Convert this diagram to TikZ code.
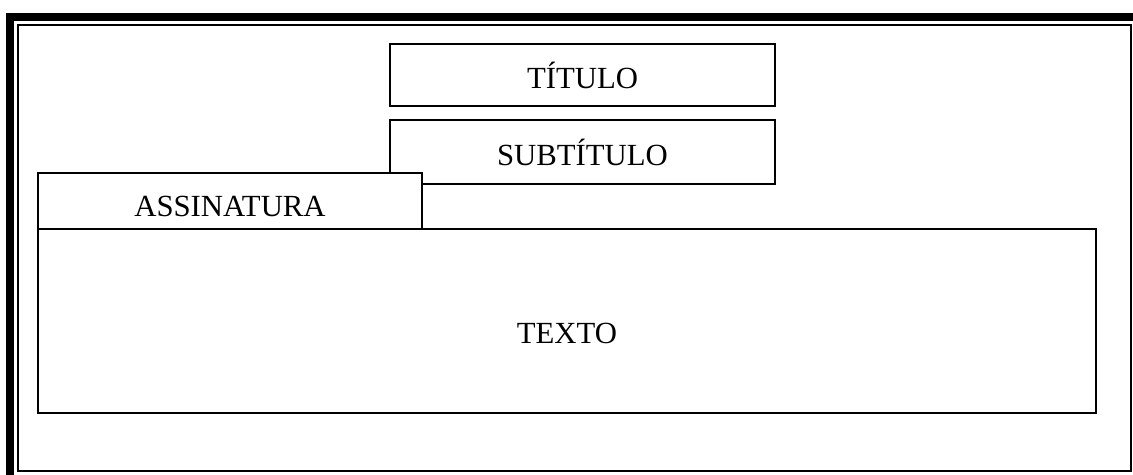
\documentclass[tikz,border=0pt]{standalone}
\usepackage{fontspec}
\setmainfont{Liberation Serif}
\begin{document}
\begin{tikzpicture}[x=0.02cm, y=-0.02cm, line width=0.9pt,
  caixa/.style={draw, rectangle, inner sep=0pt, font=\fontsize{17.5}{20}\selectfont}]
  \useasboundingbox (0,0) rectangle (1133,475);
  % moldura da pagina
  \fill (6,13) rectangle (1133,21);
  \fill (6,13) rectangle (14,475);
  \draw[line width=1.4pt] (18,25) rectangle (1131,471);
  % caixas
  \node[caixa, minimum width=385*0.02cm, minimum height=62*0.02cm] (titulo) at (582.5,75) {TÍTULO};
  \node[caixa, minimum width=385*0.02cm, minimum height=64*0.02cm] (subtitulo) at (582.5,152) {SUBTÍTULO};
  \node[caixa, minimum width=1058*0.02cm, minimum height=184*0.02cm] (texto) at (567,321) {};
  \node[caixa, fill=white, minimum width=384*0.02cm, minimum height=56*0.02cm] (assinatura) at (230,201) {};
  \node[font=\fontsize{17.5}{20}\selectfont] (assinaturatxt) at ([yshift=-5*0.02cm]assinatura.center) {ASSINATURA};
  \node[font=\fontsize{17.5}{20}\selectfont] (textotxt) at ([yshift=-12*0.02cm]texto.center) {TEXTO};
\end{tikzpicture}
\end{document}
